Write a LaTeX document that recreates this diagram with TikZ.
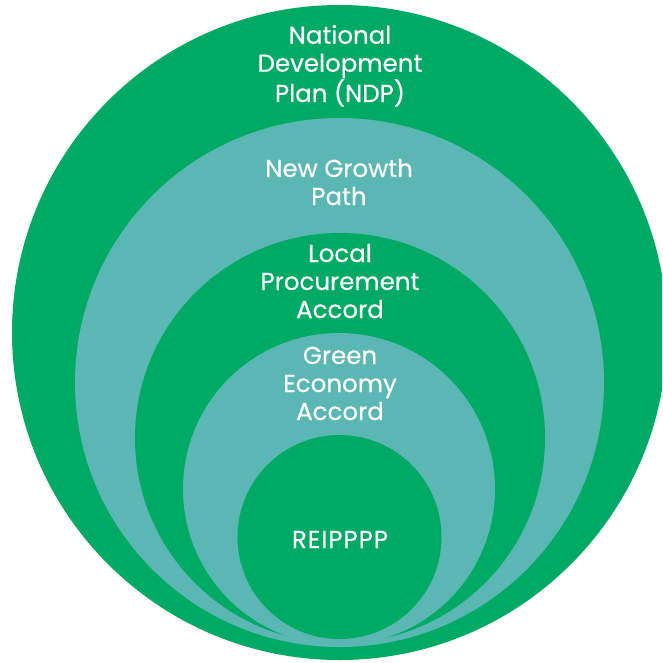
\documentclass[tikz,border=0pt]{standalone}
\usepackage{fontspec}
\setmainfont{Poppins}[FakeBold=0.4]
\definecolor{ringgreen}{HTML}{00A964}
\definecolor{ringteal}{HTML}{5BB7B3}
\tikzset{
  ring/.style={fill=#1, draw=none},
  lbl/.style={text=white, align=center, anchor=base, inner sep=0pt,
    font=\fontsize{24.5}{28}\selectfont}
}
\begin{document}
\begin{tikzpicture}[x=1pt,y=-1pt]
\useasboundingbox (0,0) rectangle (662,663);
\clip (0,0) rectangle (662,663);
\fill[ring=ringgreen] (339.5,332.5) circle (327.5);
\fill[ring=ringteal]  (339.5,382.5) circle (264.5);
\fill[ring=ringgreen] (340,438) circle (205);
\fill[ring=ringteal]  (339,489) circle (156);
\fill[ring=ringgreen] (339.5,537) circle (102);
\node[lbl] (ndp) at (340,102) {National\\Development\\Plan (NDP)};
\node[lbl] (ngp) at (339,205) {New Growth\\Path};
\node[lbl] (lpa) at (340,318) {Local\\Procurement\\Accord};
\node[lbl] (gea) at (340,420) {Green\\Economy\\Accord};
\node[lbl] (rei) at (340,548) {\addfontfeature{LetterSpace=4}REIPPPP};
\end{tikzpicture}
\end{document}
